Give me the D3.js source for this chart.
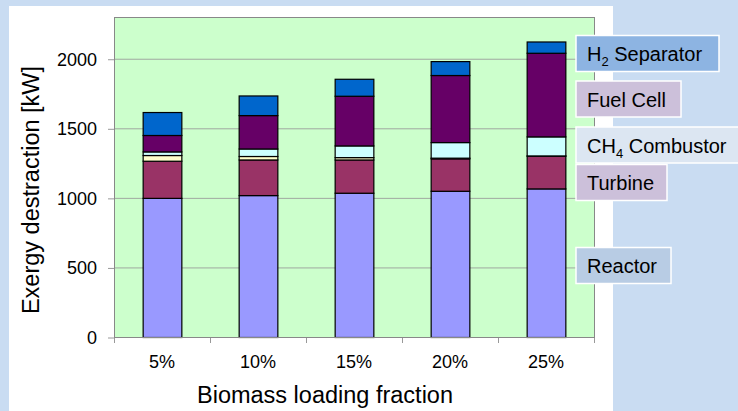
<!DOCTYPE html>
<html>
<head>
<meta charset="utf-8">
<script src="https://cdn.jsdelivr.net/npm/d3@7/dist/d3.min.js"></script>
<style>
  html, body { margin: 0; padding: 0; background: #C9DCF2; }
  svg { display: block; font-family: "Liberation Sans", Arial, sans-serif; }
</style>
</head>
<body>
<svg id="chart" width="738" height="411"></svg>
<script>
// ---- data ----
const categories = ["5%", "10%", "15%", "20%", "25%"];
const minorLoss   = [0, 0, 0, 0, 0];
const reactor     = [1000, 1020, 1037, 1051, 1068];
const turbine     = [267, 256, 239, 233, 235];
const heatExch    = [41, 25, 17, 5, 2];
const ch4Comb     = [26, 54, 84, 112, 137];
const fuelCell    = [118, 240, 357, 482, 601];
const h2Sep       = [165, 141, 122, 100, 81];
const yTicks      = [0, 500, 1000, 1500, 2000];
const seriesNames = ["Minor", "Reactor", "Turbine", "Heat exchanger", "CH4 Combustor", "Fuel Cell", "H2 Separator"];
const seriesVals  = [minorLoss, reactor, turbine, heatExch, ch4Comb, fuelCell, h2Sep];
const seriesFill  = ["none", "#9999FF", "#993366", "#FFFFCC", "#CCFFFF", "#660066", "#0066CC"];
const seriesStroke= ["#C8904A", "#000", "#000", "#000", "#000", "#000", "#000"];

// legend label boxes (annotations)
const labels = [
  {main: "H", sub: "2", rest: " Separator", fill: "#8DB4E2", y: 35.5, w: 143},
  {main: "Fuel Cell", sub: "", rest: "", fill: "#CCC0DA", y: 81, w: 105},
  {main: "CH", sub: "4", rest: " Combustor", fill: "#DCE6F2", y: 127, w: 170},
  {main: "Turbine", sub: "", rest: "", fill: "#CCC0DA", y: 164.5, w: 91},
  {main: "Reactor", sub: "", rest: "", fill: "#B8CCE4", y: 247.5, w: 95}
];

const svg = d3.select("#chart");
const W = 738, H = 411;

// white panel
svg.append("rect").attr("x", 9).attr("y", 6).attr("width", 604).attr("height", H - 6).attr("fill", "#fff");

const plot = {left: 114, right: 594, top: 17, bottom: 337};

const x = d3.scaleBand().domain(categories).range([plot.left, plot.right]).padding(0);
const y = d3.scaleLinear().domain([0, 2300]).range([plot.bottom, plot.top]);
const barW = x.bandwidth() * 0.403;

// plot background
svg.append("rect").attr("x", plot.left).attr("y", plot.top)
  .attr("width", plot.right - plot.left).attr("height", plot.bottom - plot.top)
  .attr("fill", "#CCFFCC");

// gridlines
svg.append("g").selectAll("line").data(yTicks.filter(d => d > 0)).join("line")
  .attr("x1", plot.left).attr("x2", plot.right)
  .attr("y1", d => y(d) + 0.5).attr("y2", d => y(d) + 0.5)
  .attr("stroke", "#A0A8A0").attr("stroke-width", 1);

// y axis
const yAxis = d3.axisLeft(y).tickValues(yTicks).tickFormat(d3.format("d")).tickSize(6).tickPadding(11);
const yg = svg.append("g").attr("transform", `translate(${plot.left},0.5)`).call(yAxis);
yg.attr("font-family", null).attr("font-size", null);
yg.select(".domain").remove();
yg.selectAll(".tick line").attr("stroke", "#999");
yg.selectAll(".tick text").attr("font-size", 18).attr("fill", "#000");

// x axis ticks between categories
const boundaries = categories.map(c => x(c)).concat([plot.right]);
svg.append("g").selectAll("line").data(boundaries).join("line")
  .attr("x1", d => d + 0.5).attr("x2", d => d + 0.5)
  .attr("y1", plot.bottom).attr("y2", plot.bottom + 6)
  .attr("stroke", "#999");
svg.append("g").selectAll("text").data(categories).join("text")
  .attr("x", d => x(d) + x.bandwidth() / 2).attr("y", 368)
  .attr("text-anchor", "middle").attr("font-size", 18).attr("fill", "#000")
  .text(d => d);

// stacked bars
const table = categories.map((c, i) => {
  const row = {cat: c};
  seriesNames.forEach((s, k) => row[s] = seriesVals[k][i]);
  return row;
});
const stack = d3.stack().keys(seriesNames)(table);
const gBars = svg.append("g");
const order = [1, 2, 3, 4, 5, 6, 0];
order.forEach(k => {
  gBars.append("g").selectAll("rect").data(stack[k]).join("rect")
    .attr("x", d => x(d.data.cat) + (x.bandwidth() - barW) / 2 + 0.5)
    .attr("y", d => y(d[1]) + 0.5)
    .attr("width", barW)
    .attr("height", d => Math.max(0, y(d[0]) - y(d[1])))
    .attr("fill", seriesFill[k])
    .attr("stroke", seriesStroke[k])
    .attr("stroke-width", 1.2);
});

// plot border
svg.append("rect").attr("x", plot.left + 0.5).attr("y", plot.top + 0.5)
  .attr("width", plot.right - plot.left).attr("height", plot.bottom - plot.top)
  .attr("fill", "none").attr("stroke", "#888").attr("stroke-width", 1);

// axis titles
svg.append("text").attr("x", 325).attr("y", 403).attr("text-anchor", "middle")
  .attr("font-size", 23.5).attr("fill", "#000").text("Biomass loading fraction");
svg.append("text").attr("transform", "translate(39,190) rotate(-90)").attr("text-anchor", "middle")
  .attr("font-size", 23.5).attr("fill", "#000").text("Exergy destraction [kW]");

// label boxes
const lg = svg.append("g");
labels.forEach(l => {
  lg.append("rect").attr("x", 576).attr("y", l.y).attr("width", l.w).attr("height", 36)
    .attr("fill", l.fill).attr("stroke", "#fff").attr("stroke-width", 1.5);
  const t = lg.append("text").attr("x", 587).attr("y", l.y + 25.5)
    .attr("font-size", 20).attr("fill", "#000");
  t.append("tspan").text(l.main);
  if (l.sub) {
    t.append("tspan").attr("font-size", 13).attr("dy", 5).text(l.sub);
    t.append("tspan").attr("dy", -5).text(l.rest);
  }
});
</script>
</body>
</html>
